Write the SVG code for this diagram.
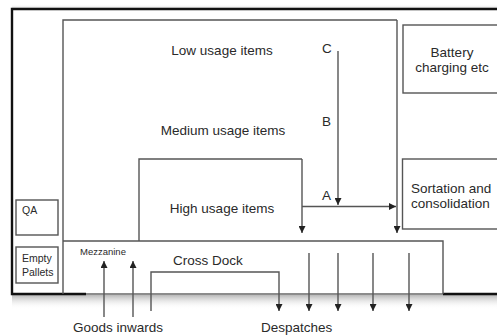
<svg xmlns="http://www.w3.org/2000/svg" width="497" height="336" viewBox="0 0 497 336">
<defs>
<marker id="ah" viewBox="0 0 10 10" refX="10" refY="5" markerWidth="7" markerHeight="7" markerUnits="userSpaceOnUse" orient="auto">
<path d="M0,0 L10,5 L0,10 z" fill="#222"/>
</marker>
<linearGradient id="sh" x1="0" y1="0" x2="0" y2="1">
<stop offset="0" stop-color="#b8b8b8"/>
<stop offset="1" stop-color="#ffffff" stop-opacity="0"/>
</linearGradient>
<linearGradient id="shTop" x1="0" y1="1" x2="0" y2="0">
<stop offset="0" stop-color="#d0d0d0"/>
<stop offset="1" stop-color="#ffffff" stop-opacity="0"/>
</linearGradient>
</defs>
<style>
.t{font-family:"Liberation Sans",Arial,sans-serif;fill:#2a2a2a;font-size:13.5px}
.s{font-size:10.5px}
.xs{font-size:9.5px}
.box{fill:none;stroke:#555;stroke-width:1.4}
.frame{fill:none;stroke:#111;stroke-width:2.4}
.ln{fill:none;stroke:#555;stroke-width:1.4}
.ar{fill:none;stroke:#555;stroke-width:1.4;marker-end:url(#ah)}
</style>
<rect width="497" height="336" fill="#fff"/>
<rect x="12" y="4" width="485" height="5" fill="url(#shTop)"/>
<rect x="12" y="295" width="485" height="14" fill="url(#sh)"/>

<g id="frame">
<path class="frame" d="M497,9 H12 V294 H86"/>
<path class="frame" d="M443,294 H497"/>
<path d="M86,294 H443" stroke="#666" stroke-width="1.6" fill="none"/>
</g>

<g id="storage">
<path class="ln" d="M63,294 V20 H397"/>
<text class="t" x="222" y="54.5" text-anchor="middle">Low usage items</text>
<text class="t" x="223" y="135" text-anchor="middle">Medium usage items</text>
</g>

<g id="high-usage">
<path class="ln" d="M139,241 V159 H302"/>
<text class="t" x="222" y="213" text-anchor="middle">High usage items</text>
</g>

<g id="battery">
<rect class="box" x="403" y="25" width="100" height="68"/>
<text class="t" x="452" y="57" text-anchor="middle">Battery</text>
<text class="t" x="452" y="72" text-anchor="middle">charging etc</text>
</g>

<g id="sortation">
<rect class="box" x="402.5" y="159" width="100" height="70"/>
<text class="t" x="411" y="193">Sortation and</text>
<text class="t" x="411" y="207.5">consolidation</text>
</g>

<g id="qa">
<rect class="box" x="16" y="200" width="42" height="35"/>
<text class="t s" x="22" y="214">QA</text>
</g>

<g id="empty-pallets">
<rect class="box" x="16" y="247" width="42" height="36"/>
<text class="t s" x="22" y="262">Empty</text>
<text class="t s" x="22" y="276">Pallets</text>
</g>

<g id="cross-dock">
<path class="ln" d="M63,241 H443 V294"/>
<text class="t xs" x="80" y="255">Mezzanine</text>
<text class="t" x="173" y="265">Cross Dock</text>
</g>

<g id="connectors">
<path class="ar" d="M397,20 V233"/>
<path class="ar" d="M302,159 V233"/>
<path class="ar" d="M338,51 V205"/>
<path class="ar" d="M302,206.5 H396"/>
<path class="ar" d="M104,317 V261"/>
<path class="ar" d="M133,317 V261"/>
<path class="ar" d="M151,311 V272 H279 V311"/>
<path class="ar" d="M309,253 V311"/>
<path class="ar" d="M338,253 V311"/>
<path class="ar" d="M373,253 V311"/>
<path class="ar" d="M409,253 V311"/>
<text class="t" x="322" y="52.5">C</text>
<text class="t" x="322" y="126">B</text>
<text class="t" x="322" y="200">A</text>
</g>

<g id="labels">
<text class="t" x="73" y="332">Goods inwards</text>
<text class="t" x="261" y="332">Despatches</text>
</g>
</svg>
